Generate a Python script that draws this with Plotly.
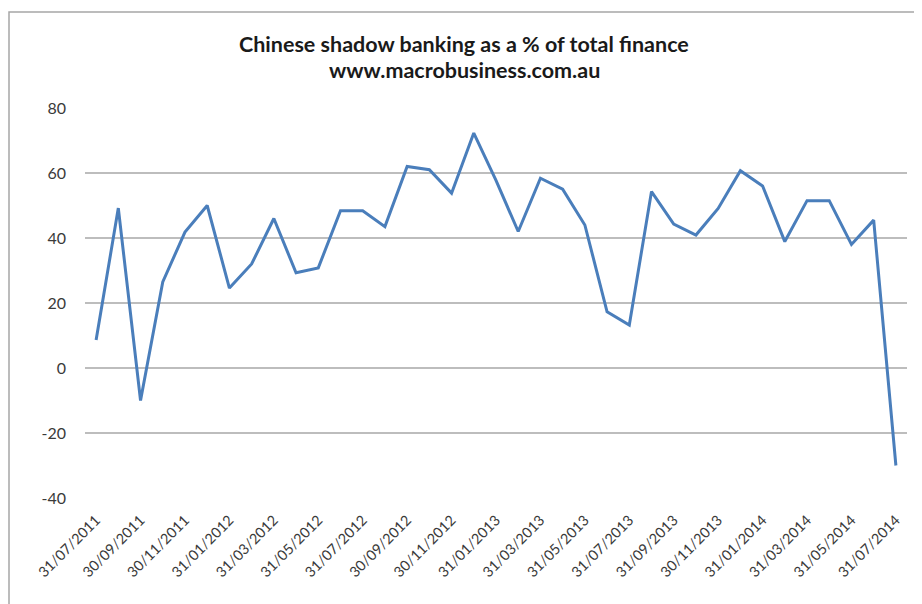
import plotly.graph_objects as go

categories = [
    "31/07/2011", "31/08/2011", "30/09/2011", "31/10/2011", "30/11/2011", "31/12/2011",
    "31/01/2012", "29/02/2012", "31/03/2012", "30/04/2012", "31/05/2012", "30/06/2012",
    "31/07/2012", "31/08/2012", "30/09/2012", "31/10/2012", "30/11/2012", "31/12/2012",
    "31/01/2013", "28/02/2013", "31/03/2013", "30/04/2013", "31/05/2013", "30/06/2013",
    "31/07/2013", "31/08/2013", "31/09/2013", "31/10/2013", "30/11/2013", "31/12/2013",
    "31/01/2014", "28/02/2014", "31/03/2014", "30/04/2014", "31/05/2014", "30/06/2014",
    "31/07/2014",
]
shadow_pct = [
    8.6, 49.2, -10.0, 26.5, 41.8, 50.0,
    24.6, 32.0, 46.0, 29.3, 30.8, 48.4,
    48.4, 43.5, 62.0, 61.0, 53.8, 72.3,
    57.7, 42.0, 58.4, 55.0, 44.0, 17.3,
    13.2, 54.3, 44.3, 40.9, 49.1, 60.7,
    56.0, 38.9, 51.5, 51.5, 38.0, 45.5,
    -30.0,
]
tick_labels = categories[::2]
y_ticks = [-40, -20, 0, 20, 40, 60, 80]
y_tick_text = ["-40", "-20", "0", "20", "40", "60", "80"]
title_lines = ["Chinese shadow banking as a % of total finance", "www.macrobusiness.com.au"]

FONT = "Lato"
# page body adds an 8px offset; plot area in screen px: x 85..907, y 108..498
OFF = 8
PL, PR, PT, PB = 85, 907, 108, 498
W, H = 922 - OFF, 604 - OFF


def py(Y):
    return (PB - Y) / (PB - PT)


def px(X):
    return (X - PL) / (PR - PL)


fig = go.Figure()
fig.add_trace(go.Scatter(
    x=categories, y=shadow_pct, mode="lines",
    line=dict(color="#4A7EBB", width=3),
    showlegend=False,
))

fig.update_layout(
    width=W, height=H,
    margin=dict(l=PL - OFF, r=W + OFF - PR, t=PT - OFF, b=H + OFF - PB),
    paper_bgcolor="white", plot_bgcolor="white",
    font=dict(family=FONT, color="#3a3a3a"),
)
for text, Y in zip(title_lines, [44, 70]):
    fig.add_annotation(
        text=f"<b>{text}</b>", xref="paper", yref="paper",
        x=px(464), y=py(Y), xanchor="center", yanchor="middle",
        showarrow=False, font=dict(family=FONT, size=21.5, color="#1a1a1a"),
    )
fig.update_xaxes(
    type="category", range=[-0.5, 36.5], automargin=False,
    tickmode="array", tickvals=tick_labels, ticktext=tick_labels,
    tickangle=-45, tickfont=dict(size=14.5, color="#3a3a3a"),
    showgrid=False, showline=False, ticks="", zeroline=False,
    ticklabelstandoff=10,
)
fig.update_yaxes(
    range=[-40, 80], tickvals=y_ticks, ticktext=y_tick_text, automargin=False,
    tickfont=dict(size=16, color="#3a3a3a"),
    showgrid=True, gridcolor="#BDBDBD", gridwidth=2,
    zeroline=False, showline=False, ticks="", ticklabelstandoff=18,
)
fig.add_shape(
    type="rect", xref="paper", yref="paper",
    x0=px(9), x1=px(918), y0=py(640), y1=py(12),
    line=dict(color="#A6A6A6", width=1.5), fillcolor="rgba(0,0,0,0)", layer="below",
)

fig.write_html("out.html")
